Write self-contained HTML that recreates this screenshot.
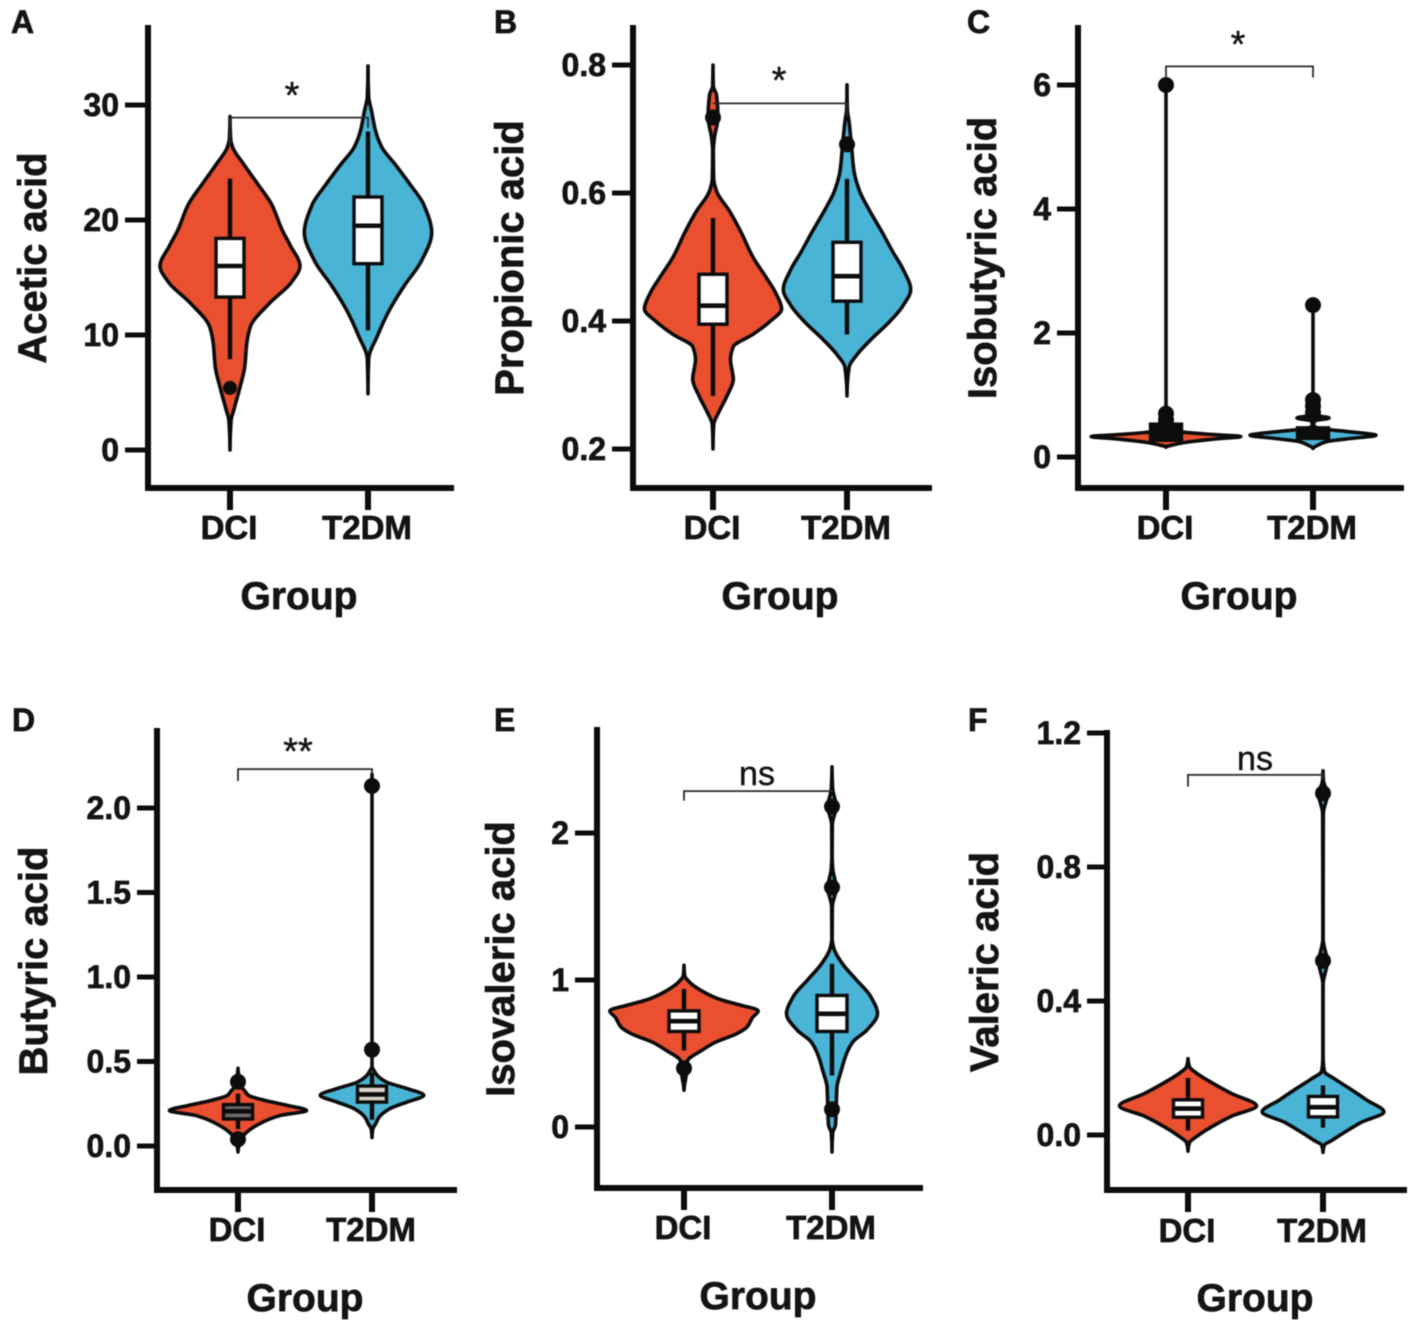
<!DOCTYPE html>
<html lang="en">
<head>
<meta charset="utf-8">
<title>Short-chain fatty acids by group</title>
<style>
html,body{margin:0;padding:0;background:#fff;}
svg{display:block;filter:blur(0.4px);}
text{font-family:"Liberation Sans",sans-serif;fill:#141414;}
</style>
</head>
<body>
<svg id="figure" xmlns="http://www.w3.org/2000/svg" width="1417" height="1338" viewBox="0 0 1417 1338"></svg>
<script>
// ---- Shared data ----
const categories = ['DCI', 'T2DM'];

// ---- A: Acetic acid ---- profiles are [value, relative density]
const aceticTickLabels = ['0', '10', '20', '30'];
const aceticDciProfile = [[29,0],[27,.01],[26.3,.04],[24.9,.19],[23.1,.4],[21.3,.6],[19.2,.74],[17.8,.86],[16,1],[14.6,.88],[12.8,.57],[10.7,.29],[9.3,.24],[7.2,.21],[5.4,.14],[3.6,.06],[2.55,.015],[0,0]];
const aceticT2dmProfile = [[33.4,0],[30.7,.01],[29.5,.05],[27.7,.11],[26.3,.2],[24.9,.38],[23.1,.6],[21.3,.8],[18.9,.91],[16.4,.76],[14.3,.52],[12.1,.3],[10,.14],[7.9,.01],[4.9,0]];
const aceticDciBox = [7.9,13.3,16,18.4,23.6];
const aceticT2dmBox = [10.4,16.2,19.5,22,27.7];
const aceticDciOutliers = [5.4];
const aceticT2dmOutliers = [];
const aceticBracket = [28.9,26.5,28];

// ---- B: Propionic acid ----
const propionicTickLabels = ['0.2', '0.4', '0.6', '0.8'];
const propionicDciProfile = [[.8,0],[.767,.005],[.753,.05],[.718,.07],[.686,.02],[.666,.005],[.622,.01],[.603,.05],[.571,.24],[.539,.4],[.5,.57],[.468,.76],[.443,.9],[.419,.98],[.398,.8],[.379,.57],[.36,.29],[.34,.25],[.309,.29],[.283,.2],[.257,.08],[.238,.01],[.2,0]];
const propionicT2dmProfile = [[.769,0],[.731,.005],[.711,.03],[.679,.06],[.634,.1],[.603,.18],[.577,.3],[.539,.5],[.507,.66],[.481,.8],[.449,.91],[.424,.8],[.398,.6],[.373,.36],[.347,.14],[.328,.03],[.283,0]];
const propionicDciBox = [.283,.395,.424,.473,.561];
const propionicT2dmBox = [.379,.431,.47,.523,.622];
const propionicDciOutliers = [.718];
const propionicT2dmOutliers = [.676];
const propionicBracket = [.74,.74,.72];

// ---- C: Isobutyric acid ----
const isobutyricTickLabels = ['0', '2', '4', '6'];
const isobutyricDciProfile = [[6,0],[.44,0],[.4,.25],[.36,.7],[.33,1.07],[.29,.7],[.24,.3],[.19,.08],[.16,0]];
const isobutyricT2dmProfile = [[2.45,0],[.68,0],[.63,.23],[.58,.02],[.5,.01],[.46,.1],[.41,.5],[.35,.9],[.3,.55],[.25,.2],[.18,.05],[.14,0]];
const isobutyricDciBox = [.27,.27,.35,.53,.6];
const isobutyricT2dmBox = [.3,.3,.38,.47,.6];
const isobutyricDciOutliers = [6,.7,.6,.53,.46];
const isobutyricT2dmOutliers = [2.45,.92,.82,.72];
const isobutyricBracket = [6.3,6.1,6.12];

// ---- D: Butyric acid ----
const butyricTickLabels = ['0.0', '0.5', '1.0', '1.5', '2.0'];
const butyricDciProfile = [[.46,0],[.42,.01],[.35,.05],[.33,.09],[.3,.15],[.27,.38],[.24,.71],[.21,.98],[.18,.6],[.13,.3],[.08,.12],[.045,.05],[-.035,0]];
const butyricT2dmProfile = [[2.2,0],[.47,0],[.46,.01],[.42,.07],[.38,.2],[.34,.5],[.3,.74],[.26,.5],[.22,.25],[.17,.1],[.13,.05],[.1,.01],[.05,0]];
const butyricDciBox = [.1,.16,.205,.245,.31];
const butyricT2dmBox = [.155,.26,.305,.355,.435];
const butyricDciOutliers = [.38,.04];
const butyricT2dmOutliers = [2.13,.57];
const butyricBracket = [2.23,2.16,2.2];

// ---- E: Isovaleric acid ----
const isovalericTickLabels = ['0', '1', '2'];
const isovalericDciProfile = [[1.1,0],[1.03,.01],[.985,.08],[.93,.24],[.87,.5],[.83,.8],[.79,1.06],[.745,.98],[.68,.9],[.634,.75],[.577,.45],[.52,.25],[.45,.05],[.35,.03],[.25,0]];
const isovalericT2dmProfile = [[2.45,0],[2.3,.01],[2.18,.06],[2.06,.005],[1.85,.002],[1.76,.01],[1.625,.06],[1.5,.005],[1.28,.002],[1.21,.03],[1.11,.15],[1,.35],[.89,.55],[.77,.65],[.66,.5],[.58,.3],[.49,.2],[.38,.13],[.27,.07],[.13,.06],[.014,.05],[-.04,.01],[-.17,0]];
const isovalericDciBox = [.52,.65,.72,.79,.94];
const isovalericT2dmBox = [.35,.65,.77,.895,1.11];
const isovalericDciOutliers = [.4];
const isovalericT2dmOutliers = [2.18,1.63,.12];
const isovalericBracket = [2.285,2.22,2.28];

// ---- F: Valeric acid ----
const valericTickLabels = ['0.0', '0.4', '0.8', '1.2'];
const valericDciProfile = [[.228,0],[.204,.02],[.185,.12],[.155,.35],[.124,.62],[.087,.98],[.056,.62],[.026,.35],[-.005,.12],[-.023,.02],[-.048,0]];
const valericT2dmProfile = [[1.087,0],[1.06,.005],[1.016,.06],[.96,.005],[.585,.002],[.517,.06],[.45,.002],[.228,.002],[.19,.02],[.167,.17],[.136,.4],[.105,.62],[.069,.87],[.038,.55],[.007,.3],[-.017,.12],[-.03,.02],[-.052,0]];
const valericDciBox = [.013,.053,.079,.105,.17];
const valericT2dmBox = [.022,.054,.083,.115,.148];
const valericDciOutliers = [];
const valericT2dmOutliers = [1.02,.52];
const valericBracket = [1.075,1.04,1.06];

// ---- Panel definitions (data references + layout) ----
const panels = [
 {id:'a',letter:'A',letterX:11,letterY:33,title:'Acetic acid',titleX:46,titleY:258,
  domain:[0,30],range:[450,105],axisX:148,axisTop:25,axisBottom:488,axisRight:454,tickLeft:125,cats:[230,368],groupX:299,groupY:609,catY:539,
  ticks:aceticTickLabels,profiles:[aceticDciProfile,aceticT2dmProfile],boxes:[aceticDciBox,aceticT2dmBox],outliers:[aceticDciOutliers,aceticT2dmOutliers],bracket:aceticBracket,sig:'*',sigX:292,sigY:108,boxW:28,r:7,boxFills:['#fff','#fff']},
 {id:'b',letter:'B',letterX:494,letterY:33,title:'Propionic acid',titleX:523,titleY:258,
  domain:[.2,.8],range:[449,65],axisX:633,axisTop:25,axisBottom:488,axisRight:932,tickLeft:612,cats:[713,847],groupX:780,groupY:609,catY:539,
  ticks:propionicTickLabels,profiles:[propionicDciProfile,propionicT2dmProfile],boxes:[propionicDciBox,propionicT2dmBox],outliers:[propionicDciOutliers,propionicT2dmOutliers],bracket:propionicBracket,sig:'*',sigX:779,sigY:93,boxW:28,r:8,boxFills:['#fff','#fff']},
 {id:'c',letter:'C',letterX:967,letterY:33,title:'Isobutyric acid',titleX:996,titleY:258,
  domain:[0,6],range:[457,85],axisX:1078,axisTop:25,axisBottom:488,axisRight:1404,tickLeft:1057,cats:[1166,1313],groupX:1239,groupY:609,catY:539,
  ticks:isobutyricTickLabels,profiles:[isobutyricDciProfile,isobutyricT2dmProfile],boxes:[isobutyricDciBox,isobutyricT2dmBox],outliers:[isobutyricDciOutliers,isobutyricT2dmOutliers],bracket:isobutyricBracket,sig:'*',sigX:1238,sigY:57,boxW:31,r:8,boxFills:['#0c0c0c','#0c0c0c']},
 {id:'d',letter:'D',letterX:12,letterY:731,title:'Butyric acid',titleX:47,titleY:961,
  domain:[0,2],range:[1146,808],axisX:157,axisTop:728,axisBottom:1190,axisRight:457,tickLeft:137,cats:[238,372],groupX:305,groupY:1311,catY:1241,
  ticks:butyricTickLabels,profiles:[butyricDciProfile,butyricT2dmProfile],boxes:[butyricDciBox,butyricT2dmBox],outliers:[butyricDciOutliers,butyricT2dmOutliers],bracket:butyricBracket,sig:'**',sigX:298,sigY:764,boxW:29,r:8,boxFills:['#6a6a6a','#d8d2c8']},
 {id:'e',letter:'E',letterX:494,letterY:731,title:'Isovaleric acid',titleX:514,titleY:959,
  domain:[0,2],range:[1127,833],axisX:597,axisTop:727,axisBottom:1188,axisRight:923,tickLeft:575,cats:[684,832],groupX:758,groupY:1309,catY:1239,
  ticks:isovalericTickLabels,profiles:[isovalericDciProfile,isovalericT2dmProfile],boxes:[isovalericDciBox,isovalericT2dmBox],outliers:[isovalericDciOutliers,isovalericT2dmOutliers],bracket:isovalericBracket,sig:'ns',sigX:757,sigY:785,boxW:30,r:8,boxFills:['#fff','#fff']},
 {id:'f',letter:'F',letterX:968,letterY:731,title:'Valeric acid',titleX:998,titleY:962,
  domain:[0,1.2],range:[1135,733],axisX:1107,axisTop:730,axisBottom:1190,axisRight:1407,tickLeft:1087,cats:[1188,1323],groupX:1255,groupY:1311,catY:1242,
  ticks:valericTickLabels,profiles:[valericDciProfile,valericT2dmProfile],boxes:[valericDciBox,valericT2dmBox],outliers:[valericDciOutliers,valericT2dmOutliers],bracket:valericBracket,sig:'ns',sigX:1255,sigY:770,boxW:29,r:8,boxFills:['#fff','#fff']}
];

const seriesColors = ['#EA4F30', '#4AB4D6'];
const seriesKeys = ['dci', 't2dm'];
const INK = '#0c0c0c';
const DENSITY_UNIT = 70;
const NS = 'http://www.w3.org/2000/svg';
const root = document.getElementById('figure');

function make(tag, parent, name, attrs, content) {
  const el = document.createElementNS(NS, tag);
  
  
  for (const k in attrs) el.setAttribute(k, attrs[k]);
  if (content !== undefined) el.textContent = content;
  parent.appendChild(el);
  return el;
}

function boldText(parent, name, attrs, content) {
  const full = Object.assign({'font-weight': 700, stroke: '#141414', 'stroke-width': 0.7}, attrs);
  return make('text', parent, name, full, content);
}

// Monotone cubic interpolation of half-width as a function of y, mirrored about cx.
function violinPath(profile, cx, yScale) {
  const pts = profile.map(p => [p[1] * DENSITY_UNIT, yScale(p[0])]);
  const n = pts.length;
  const slopes = [];
  for (let i = 0; i < n - 1; i++) slopes.push((pts[i + 1][0] - pts[i][0]) / (pts[i + 1][1] - pts[i][1]));
  const m = pts.map(function (p, i) {
    if (i === 0 || i === n - 1) return 0;
    const a = slopes[i - 1], b = slopes[i];
    if (a * b <= 0) return 0;
    const d0 = pts[i][1] - pts[i - 1][1], d1 = pts[i + 1][1] - pts[i][1];
    const w0 = 2 * d1 + d0, w1 = d1 + 2 * d0;
    return (w0 + w1) / (w0 / a + w1 / b);
  });
  let right = '', left = '';
  for (let i = 0; i < n - 1; i++) {
    const p1 = pts[i], p2 = pts[i + 1], dy = p2[1] - p1[1];
    const c1 = [p1[0] + m[i] * dy / 3, p1[1] + dy / 3];
    const c2 = [p2[0] - m[i + 1] * dy / 3, p2[1] - dy / 3];
    right += 'C' + (cx + c1[0]).toFixed(2) + ' ' + c1[1].toFixed(2) + ' ' + (cx + c2[0]).toFixed(2) + ' ' + c2[1].toFixed(2) + ' ' + (cx + p2[0]).toFixed(2) + ' ' + p2[1].toFixed(2);
    left = 'C' + (cx - c2[0]).toFixed(2) + ' ' + c2[1].toFixed(2) + ' ' + (cx - c1[0]).toFixed(2) + ' ' + c1[1].toFixed(2) + ' ' + (cx - p1[0]).toFixed(2) + ' ' + p1[1].toFixed(2) + left;
  }
  return 'M' + (cx + pts[0][0]).toFixed(2) + ' ' + pts[0][1].toFixed(2) + right + left + 'Z';
}

panels.forEach(function (P) {
  const yScale = v => P.range[0] + (v - P.domain[0]) / (P.domain[1] - P.domain[0]) * (P.range[1] - P.range[0]);
  const xScale = i => P.cats[i];
  const g = make('g', root, 'panel-' + P.id, {});

  boldText(g, 'panel-letter-' + P.id, {x: P.letterX, y: P.letterY, 'font-size': 32}, P.letter);

  boldText(g, 'y-axis-title-' + P.id, {x: 0, y: 0, transform: 'translate(' + P.titleX + ' ' + P.titleY + ') rotate(-90)', 'text-anchor': 'middle', 'font-size': 40}, P.title);

  make('line', g, 'y-axis-' + P.id, {x1: P.axisX, x2: P.axisX, y1: P.axisTop, y2: P.axisBottom + 3, stroke: INK, 'stroke-width': 6});
  make('line', g, 'x-axis-' + P.id, {x1: P.axisX - 3, x2: P.axisRight, y1: P.axisBottom, y2: P.axisBottom, stroke: INK, 'stroke-width': 6});

  P.ticks.forEach(function (label) {
    const v = parseFloat(label);
    make('line', g, 'y-tick-' + P.id, {x1: P.tickLeft, x2: P.axisX, y1: yScale(v), y2: yScale(v), stroke: INK, 'stroke-width': 5});
    boldText(g, 'y-tick-label-' + P.id, {x: P.tickLeft - 6, y: yScale(v) + 11, 'text-anchor': 'end', 'font-size': 32}, label);
  });

  categories.forEach(function (cat, i) {
    const cx = xScale(i);
    make('line', g, 'x-tick-' + seriesKeys[i] + '-' + P.id, {x1: cx, x2: cx, y1: P.axisBottom, y2: P.axisBottom + 22, stroke: INK, 'stroke-width': 6});
    boldText(g, 'x-tick-label-' + seriesKeys[i] + '-' + P.id, {x: cx - 1, y: P.catY, 'text-anchor': 'middle', 'font-size': 33}, cat);
  });

  boldText(g, 'x-axis-title-' + P.id, {x: P.groupX, y: P.groupY, 'text-anchor': 'middle', 'font-size': 39}, 'Group');

  categories.forEach(function (cat, i) {
    const cx = xScale(i);
    const box = P.boxes[i];
    const key = seriesKeys[i];
    make('path', g, 'violin-' + key + '-' + P.id, {d: violinPath(P.profiles[i], cx, yScale), fill: seriesColors[i], stroke: INK, 'stroke-width': 3.6, 'stroke-linejoin': 'round'});
    make('line', g, 'whisker-' + key + '-' + P.id, {x1: cx, x2: cx, y1: yScale(box[0]), y2: yScale(box[4]), stroke: INK, 'stroke-width': 4.4});
    make('rect', g, 'box-' + key + '-' + P.id, {x: cx - P.boxW / 2, y: yScale(box[3]), width: P.boxW, height: yScale(box[1]) - yScale(box[3]), fill: P.boxFills[i], stroke: INK, 'stroke-width': 3.4});
    make('line', g, 'median-' + key + '-' + P.id, {x1: cx - P.boxW / 2, x2: cx + P.boxW / 2, y1: yScale(box[2]), y2: yScale(box[2]), stroke: INK, 'stroke-width': 4.6});
    P.outliers[i].forEach(function (v) {
      make('circle', g, 'outlier-' + key + '-' + P.id, {cx: cx, cy: yScale(v), r: P.r, fill: INK});
    });
  });

  const by = yScale(P.bracket[0]);
  const bd = 'M' + xScale(0) + ' ' + yScale(P.bracket[1]) + 'L' + xScale(0) + ' ' + by + 'L' + xScale(1) + ' ' + by + 'L' + xScale(1) + ' ' + yScale(P.bracket[2]);
  make('path', g, 'significance-bracket-' + P.id, {d: bd, fill: 'none', stroke: '#2a2a2a', 'stroke-width': 1.8});
  make('text', g, 'significance-label-' + P.id, {x: P.sigX, y: P.sigY, 'text-anchor': 'middle', 'font-size': P.sig === 'ns' ? 34 : 38, stroke: '#141414', 'stroke-width': 0.4}, P.sig);
});
</script>
</body>
</html>
